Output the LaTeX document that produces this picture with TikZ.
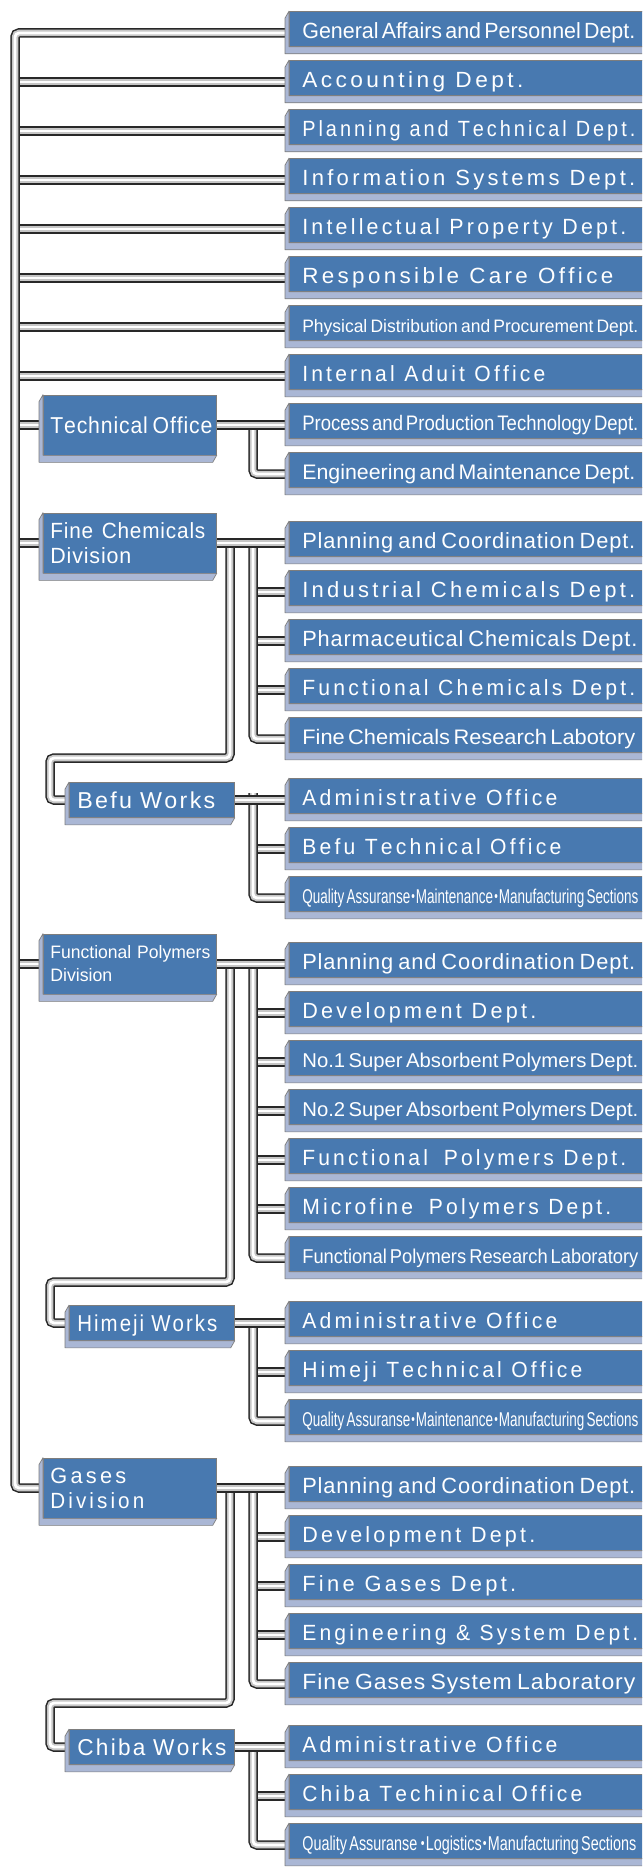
\documentclass[tikz,border=0pt]{standalone}
\usepackage{fontspec}
\setmainfont{Liberation Sans}
\usetikzlibrary{calc}
\pgfdeclarelayer{pipes}
\pgfsetlayers{pipes,main}
\definecolor{facec}{RGB}{72,121,176}
\definecolor{bevc}{RGB}{170,183,213}
\definecolor{edgec}{RGB}{125,125,125}
\definecolor{pipedark}{RGB}{40,40,40}
\ExplSyntaxOn
\seq_new:N \l_trk_seq
\NewDocumentCommand\trk{mm}{
  \seq_set_split:Nnn \l_trk_seq {~} {#2}
  \seq_map_indexed_inline:Nn \l_trk_seq
    { \int_compare:nT {##1>1} {\ \kern #1}
      \tl_map_inline:nn {##2} { ####1 \kern #1 } }
  \unkern
}
\ExplSyntaxOff
\newcommand\fw[3]{\resizebox{#1pt}{\height}{\fontsize{#2pt}{#2pt}\selectfont #3}}
\newcommand\kdot{\hspace{0.08em}\raisebox{0.12em}{\scalebox{0.75}{•}}\hspace{0.08em}}
\newcommand\bevel[1]{\draw[bevelst] (#1.north west) -- ++(-4,7) |- ($(#1.south east)+(-4,7)$) -- (#1.south east) -- (#1.south west) -- cycle;}
\tikzset{
  rbox/.style={draw=edgec, fill=facec, text=white, line width=0.7pt, anchor=west,
    minimum height=35pt, minimum width=380pt, text width=354pt, inner xsep=13pt,
    inner ysep=0pt, align=left, text height=22pt, text depth=3pt},
  dbox/.style={draw=edgec, fill=facec, text=white, line width=0.7pt, anchor=west,
    minimum height=60pt, minimum width=173pt, text width=159pt, inner xsep=7pt,
    inner ysep=0pt, align=left},
  wbox/.style={draw=edgec, fill=facec, text=white, line width=0.7pt, anchor=west,
    minimum height=35pt, minimum width=165pt, text width=149pt, inner xsep=8pt,
    inner ysep=0pt, align=left, text height=21pt, text depth=5pt},
  bevelst/.style={fill=bevc, draw=edgec, line width=0.7pt, line join=round},
  pipe/.style={draw=pipedark, line width=9.5pt, rounded corners=4pt,
    postaction={draw=gray!45, line width=6.5pt},
    postaction={draw=white, line width=2.8pt}}
}
\begin{document}
\begin{tikzpicture}[x=1pt,y=-1pt]
\useasboundingbox (0,0) rectangle (642,1867);
\clip (0,0) rectangle (642,1867);
\begin{pgfonlayer}{pipes}
\fill[white] (0,0) rectangle (642,1867);
\end{pgfonlayer}

% right-hand boxes
\node[rbox] (r1) at (289,29) {\fw{333}{22}{General Affairs and Personnel Dept.}};
\node[rbox] (r2) at (289,78) {\fw{221}{22}{\trk{0.15em}{Accounting Dept.}}};
\node[rbox] (r3) at (289,127) {\fw{333}{22}{\trk{0.15em}{Planning and Technical Dept.}}};
\node[rbox] (r4) at (289,176) {\fw{333}{22}{\trk{0.15em}{Information Systems Dept.}}};
\node[rbox] (r5) at (289,225) {\fw{324}{22}{\trk{0.15em}{Intellectual Property Dept.}}};
\node[rbox] (r6) at (289,274) {\fw{311}{22}{\trk{0.15em}{Responsible Care Office}}};
\node[rbox] (r7) at (289,323) {\fw{336}{18}{Physical Distribution and Procurement Dept.}};
\node[rbox] (r8) at (289,372) {\fw{243}{22}{\trk{0.15em}{Internal Aduit Office}}};
\node[rbox] (r9) at (289,421) {\fw{336}{21}{Process and Production Technology Dept.}};
\node[rbox] (r10) at (289,470) {\fw{333}{21}{Engineering and Maintenance Dept.}};
\node[rbox] (r11) at (289,539) {\fw{333}{22}{\trk{0.04em}{Planning and Coordination Dept.}}};
\node[rbox] (r12) at (289,588) {\fw{333}{22}{\trk{0.15em}{Industrial Chemicals Dept.}}};
\node[rbox] (r13) at (289,637) {\fw{335}{22}{\trk{0.04em}{Pharmaceutical Chemicals Dept.}}};
\node[rbox] (r14) at (289,686) {\fw{333}{22}{\trk{0.15em}{Functional Chemicals Dept.}}};
\node[rbox] (r15) at (289,735) {\fw{333}{21}{Fine Chemicals Research Labotory}};
\node[rbox] (r16) at (289,796) {\fw{255}{22}{\trk{0.15em}{Administrative Office}}};
\node[rbox] (r17) at (289,845) {\fw{259}{22}{\trk{0.15em}{Befu Technical Office}}};
\node[rbox] (r18) at (289,894) {\fw{336}{20}{Quality Assuranse\kdot Maintenance\kdot Manufacturing Sections}};
\node[rbox] (r19) at (289,960) {\fw{333}{22}{\trk{0.04em}{Planning and Coordination Dept.}}};
\node[rbox] (r20) at (289,1009) {\fw{234}{22}{\trk{0.15em}{Development Dept.}}};
\node[rbox] (r21) at (289,1058) {\fw{336}{20}{No.1 Super Absorbent Polymers Dept.}};
\node[rbox] (r22) at (289,1107) {\fw{336}{20}{No.2 Super Absorbent Polymers Dept.}};
\node[rbox] (r23) at (289,1156) {\fw{324}{22}{\trk{0.15em}{Functional~~Polymers Dept.}}};
\node[rbox] (r24) at (289,1205) {\fw{309}{22}{\trk{0.15em}{Microfine~~Polymers Dept.}}};
\node[rbox] (r25) at (289,1254) {\fw{336}{20}{Functional Polymers Research Laboratory}};
\node[rbox] (r26) at (289,1319) {\fw{255}{22}{\trk{0.15em}{Administrative Office}}};
\node[rbox] (r27) at (289,1368) {\fw{280}{22}{\trk{0.15em}{Himeji Technical Office}}};
\node[rbox] (r28) at (289,1417) {\fw{336}{20}{Quality Assuranse\kdot Maintenance\kdot Manufacturing Sections}};
\node[rbox] (r29) at (289,1484) {\fw{333}{22}{\trk{0.04em}{Planning and Coordination Dept.}}};
\node[rbox] (r30) at (289,1533) {\fw{233}{22}{\trk{0.15em}{Development Dept.}}};
\node[rbox] (r31) at (289,1582) {\fw{214}{22}{\trk{0.15em}{Fine Gases Dept.}}};
\node[rbox] (r32) at (289,1631) {\fw{336}{22}{\trk{0.15em}{Engineering \& System Dept.}}};
\node[rbox] (r33) at (289,1680) {\fw{333}{22}{\trk{0.04em}{Fine Gases System Laboratory}}};
\node[rbox] (r34) at (289,1743) {\fw{255}{22}{\trk{0.15em}{Administrative Office}}};
\node[rbox] (r35) at (289,1792) {\fw{280}{22}{\trk{0.15em}{Chiba Techinical Office}}};
\node[rbox] (r36) at (289,1841) {\fw{334}{20}{Quality Assuranse \kdot Logistics\kdot Manufacturing Sections}};

% left-hand boxes
\node[dbox, text height=21pt, text depth=5pt] (tech) at (43,425) {\fw{162}{23}{\trk{0.04em}{Technical Office}}};
\node[dbox, font=\fontsize{22pt}{25pt}\selectfont] (fine) at (43,543) {\fw{155}{22}{\trk{0.04em}{Fine Chemicals}}\\\fw{81}{22}{\trk{0.04em}{Division}}};
\node[dbox, font=\fontsize{18pt}{23pt}\selectfont] (poly) at (43,964) {\fw{160}{18}{Functional Polymers}\\\fw{62}{18}{Division}};
\node[dbox, font=\fontsize{22pt}{25pt}\selectfont] (gases) at (43,1488) {\fw{76}{22}{\trk{0.15em}{Gases}}\\\fw{94}{22}{\trk{0.15em}{Division}}};
\node[wbox] (befu) at (69,800) {\fw{138}{23}{\trk{0.1em}{Befu Works}}};
\node[wbox] (himeji) at (69,1323) {\fw{140}{23}{\trk{0.1em}{Himeji Works}}};
\node[wbox] (chiba) at (69,1747) {\fw{149}{23}{\trk{0.1em}{Chiba Works}}};

\foreach \n in {r1,r2,r3,r4,r5,r6,r7,r8,r9,r10,r11,r12,r13,r14,r15,r16,r17,r18,
  r19,r20,r21,r22,r23,r24,r25,r26,r27,r28,r29,r30,r31,r32,r33,r34,r35,r36,
  tech,fine,poly,gases,befu,himeji,chiba}{\bevel{\n}}

% pipe anchor points
\foreach \i in {1,...,36}{\coordinate (p\i) at ([yshift=-4pt]r\i.west);}
\coordinate (xT) at (15,0);
\coordinate (xL) at (50,0);
\coordinate (xA) at (253,0);
\coordinate (xB) at (230,0);
\coordinate (tB1) at (230,758);
\coordinate (tB2) at (230,1282);
\coordinate (tB3) at (230,1703);

\begin{pgfonlayer}{pipes}
% trunk
\foreach \i in {2,...,8}{\draw[pipe] (xT |- p\i) -- (p\i);}
\draw[pipe] (xT |- tech.west) -- (tech.west);
\draw[pipe] (xT |- fine.west) -- (fine.west);
\draw[pipe] (xT |- poly.west) -- (poly.west);
\draw[pipe] (p1) -| (xT |- gases.west) -- (gases.west);
% technical office
\draw[pipe] (xA |- p9) |- (p10);
\draw[pipe] (tech.east) -- (p9);
% fine chemicals
\foreach \i in {12,13,14}{\draw[pipe] (xA |- p\i) -- (p\i);}
\draw[pipe] (xA |- p11) |- (p15);
\draw[pipe] (xB |- p11) -- (tB1) -| (xL |- befu.west) -- (befu.west);
\draw[pipe] (fine.east) -- (p11);
% befu
\draw[pipe] (xA |- p17) -- (p17);
\draw[pipe] ($(xA |- p16)+(0,-7)$) |- (p18);
\draw[pipe] (befu.east) -- (p16);
% functional polymers
\foreach \i in {20,...,24}{\draw[pipe] (xA |- p\i) -- (p\i);}
\draw[pipe] (xA |- p19) |- (p25);
\draw[pipe] (xB |- p19) -- (tB2) -| (xL |- himeji.west) -- (himeji.west);
\draw[pipe] (poly.east) -- (p19);
% himeji
\draw[pipe] (xA |- p27) -- (p27);
\draw[pipe] (xA |- p26) |- (p28);
\draw[pipe] (himeji.east) -- (p26);
% gases
\foreach \i in {30,31,32}{\draw[pipe] (xA |- p\i) -- (p\i);}
\draw[pipe] (xA |- p29) |- (p33);
\draw[pipe] (xB |- p29) -- (tB3) -| (xL |- chiba.west) -- (chiba.west);
\draw[pipe] (gases.east) -- (p29);
% chiba
\draw[pipe] (xA |- p35) -- (p35);
\draw[pipe] (xA |- p34) |- (p36);
\draw[pipe] (chiba.east) -- (p34);
\end{pgfonlayer}
\end{tikzpicture}
\end{document}
